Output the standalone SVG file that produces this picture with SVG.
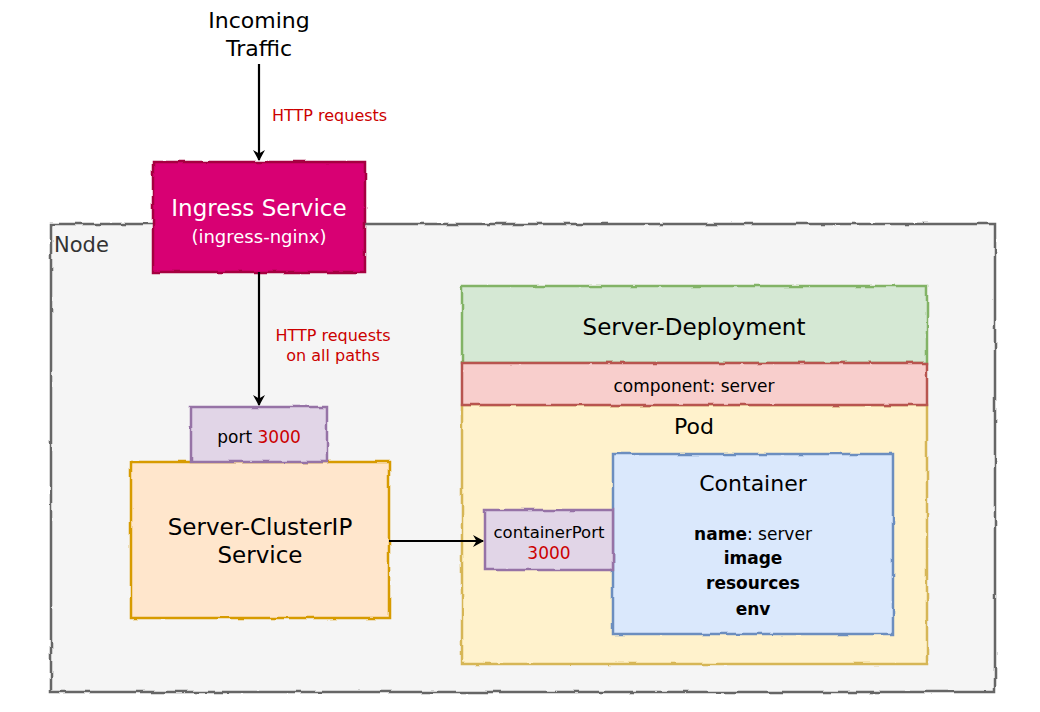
<svg xmlns="http://www.w3.org/2000/svg" width="1040" height="712" viewBox="0 0 1040 712">
<defs>
<style>
text{font-family:"DejaVu Sans","Liberation Sans",sans-serif;fill:#000;text-anchor:middle}
.big{font-size:22px}
.mid{font-size:17px}
.sm{font-size:16px}
.red{fill:#cc0000}
.b{font-weight:bold}
.box{stroke-width:2.5;filter:url(#rough)}
.edge{stroke:#000;stroke-width:2.2;fill:none}
</style>
<filter id="rough" x="-5%" y="-5%" width="110%" height="110%">
<feTurbulence type="fractalNoise" baseFrequency="0.06" numOctaves="2" seed="3" result="n"/>
<feDisplacementMap in="SourceGraphic" in2="n" scale="3" xChannelSelector="R" yChannelSelector="G"/>
</filter>
<marker id="arr" markerWidth="12" markerHeight="12" refX="10" refY="6" orient="auto" markerUnits="userSpaceOnUse">
<path d="M0,0 L11,6 L0,12 L3.5,6 Z" fill="#000"/>
</marker>
</defs>
<rect width="1040" height="712" fill="#fff"/>
<g id="node">
<rect class="box" x="51" y="224" width="944" height="468" fill="#f5f5f5" stroke="#666"/>
<text x="54" y="252" style="text-anchor:start;fill:#333;font-size:21px">Node</text>
</g>
<g id="incoming">
<text x="259" y="28" style="font-size:22px">Incoming</text>
<text x="259" y="56" style="font-size:22px">Traffic</text>
</g>
<g id="ingress">
<rect class="box" x="153" y="162" width="212" height="110" fill="#d80073" stroke="#a50040"/>
<text x="259" y="216" style="fill:#fff;font-size:23px">Ingress Service</text>
<text x="259" y="243" style="fill:#fff;font-size:18px">(ingress-nginx)</text>
</g>
<g id="clusterip">
<rect class="box" x="131" y="462" width="258" height="156" fill="#ffe6cc" stroke="#d79b00"/>
<text x="260" y="535" style="font-size:23px">Server-ClusterIP</text>
<text x="260" y="563" style="font-size:23px">Service</text>
</g>
<g id="port">
<rect class="box" x="191" y="407" width="136" height="55" fill="#e1d5e7" stroke="#9673a6"/>
<text x="259" y="443" style="font-size:17px">port <tspan class="red">3000</tspan></text>
</g>
<g id="deployment">
<rect class="box" x="462" y="286" width="465" height="77" fill="#d5e8d4" stroke="#82b366"/>
<text x="694" y="335" style="font-size:23px">Server-Deployment</text>
</g>
<g id="pod">
<rect class="box" x="462" y="405" width="465" height="259" fill="#fff2cc" stroke="#d6b656"/>
<text x="694" y="434" class="big">Pod</text>
</g>
<g id="component">
<rect class="box" x="462" y="363" width="465" height="42" fill="#f8cecc" stroke="#b85450"/>
<text x="694" y="392" style="font-size:17px">component: server</text>
</g>
<g id="container">
<rect class="box" x="613" y="454" width="280" height="180" fill="#dae8fc" stroke="#6c8ebf"/>
<text x="753" y="491" class="big">Container</text>
<text x="753" y="540" class="mid"><tspan class="b">name</tspan>: server</text>
<text x="753" y="564" class="mid b">image</text>
<text x="753" y="589" class="mid b">resources</text>
<text x="753" y="615" class="mid b">env</text>
</g>
<g id="containerport">
<rect class="box" x="485" y="510" width="128" height="60" fill="#e1d5e7" stroke="#9673a6"/>
<text x="549" y="538" style="font-size:16.5px">containerPort</text>
<text x="549" y="559" class="red" style="font-size:17px">3000</text>
</g>
<g id="connectors">
<path class="edge" d="M259,64 L259,160" marker-end="url(#arr)"/>
<text x="272" y="121" class="sm red" style="text-anchor:start">HTTP requests</text>
<path class="edge" d="M259,272 L259,405" marker-end="url(#arr)"/>
<text x="333" y="341" class="sm red">HTTP requests</text>
<text x="333" y="361" class="sm red">on all paths</text>
<path class="edge" d="M389,541 L483,541" marker-end="url(#arr)"/>
</g>
</svg>
